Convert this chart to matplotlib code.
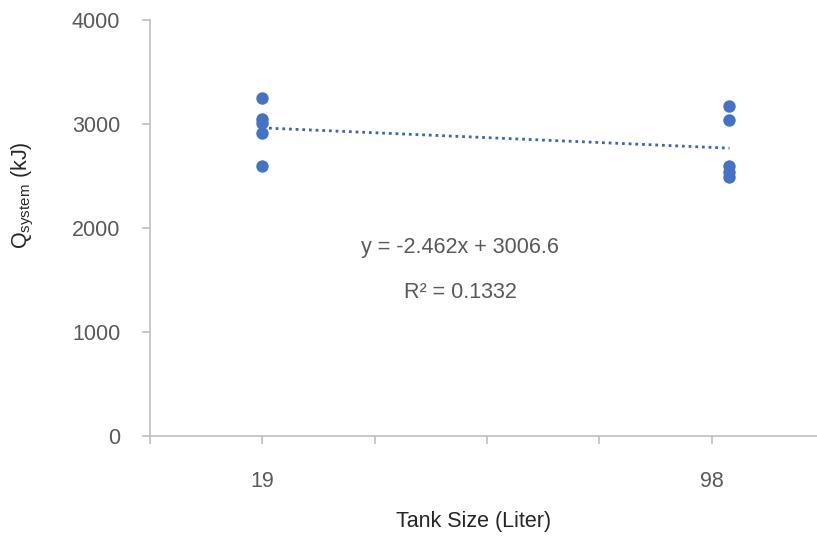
import numpy as np
import matplotlib
matplotlib.use("Agg")
import matplotlib.pyplot as plt

plt.rcParams['font.family'] = ['Liberation Sans', 'DejaVu Sans']
plt.rcParams['mathtext.fontset'] = 'custom'
plt.rcParams['mathtext.rm'] = 'Liberation Sans'
plt.rcParams['mathtext.it'] = 'Liberation Sans:italic'

# data
tank_19 = [3253, 3045, 3010, 2910, 2596]
tank_98 = [3172, 3043, 2596, 2535, 2492]
x_vals = [19] * len(tank_19) + [98] * len(tank_98)
y_vals = tank_19 + tank_98
x_ticks = [0, 19, 38, 57, 76, 95]
x_tick_labels = ['', '19', '', '', '', '98']
y_ticks = [0, 1000, 2000, 3000, 4000]
equation = "y = -2.462x + 3006.6"
r2_text = "R² = 0.1332"

blue = '#4472C4'
grey_txt = '#595959'
spine_c = '#BFBFBF'
fs = 15.5

fig = plt.figure(figsize=(8.17, 5.37), dpi=100)
ax = fig.add_axes([150/817, 1-436/537, 667/817, 416/537])

ax.scatter(x_vals, y_vals, s=80, color=blue, zorder=3, linewidths=0)

coef = np.polyfit(x_vals, y_vals, 1)
xl = np.array([19, 98])
ax.plot(xl, np.polyval(coef, xl), linestyle=(0, (1, 1.4)), color='#3A64B8', lw=2.0, zorder=2)

ax.set_xlim(0, 112.8)
ax.set_ylim(0, 4000)
ax.set_xticks(x_ticks)
ax.set_xticklabels(x_tick_labels)
ax.set_yticks(y_ticks)

for s in ['top', 'right']:
    ax.spines[s].set_visible(False)
for s in ['left', 'bottom']:
    ax.spines[s].set_color(spine_c)
    ax.spines[s].set_linewidth(1.2)

ax.tick_params(axis='both', colors=spine_c, labelcolor=grey_txt, labelsize=fs,
               length=6, width=1.2, direction='out')
ax.tick_params(axis='y', pad=15.5)
ax.tick_params(axis='x', pad=19)

ax.set_xlabel("Tank Size (Liter)", fontsize=fs, color='#262626')
ax.xaxis.set_label_coords((474-150)/667, (436-521)/416)
ax.xaxis.label.set_va('center')
ax.set_ylabel(r"Q$_{\mathrm{system}}$ (kJ)", fontsize=fs, color='#262626')
ax.yaxis.set_label_coords((23-150)/667, (436-195)/416)
ax.yaxis.label.set_va('center')

ax.text((460-150)/667, (436-248)/416, equation, transform=ax.transAxes,
        ha='center', va='center', fontsize=fs, color=grey_txt)
ax.text((460-150)/667, (436-292)/416, r2_text, transform=ax.transAxes,
        ha='center', va='center', fontsize=fs, color=grey_txt)

fig.savefig("out.png", dpi=100)
